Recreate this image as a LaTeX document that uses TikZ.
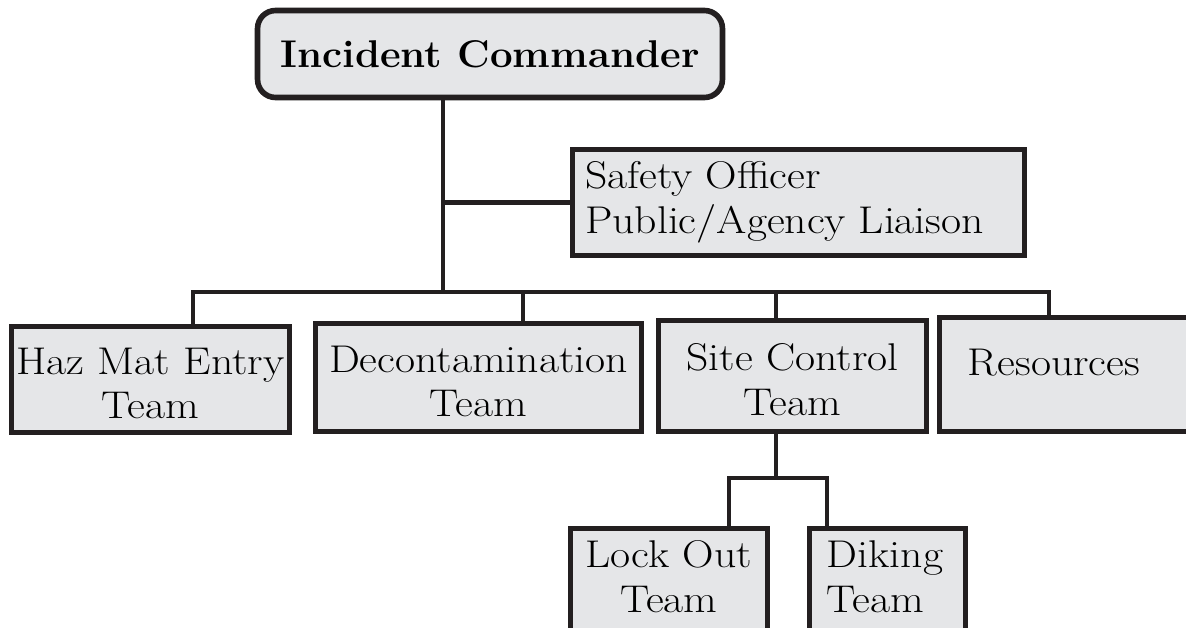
\documentclass[tikz,border=0pt]{standalone}
\usepackage{fontspec}
\usepackage{tikz}
\newfontfamily\boxfont{Latin Modern Roman}[FakeStretch=1.13]
\newfontfamily\headfont{Latin Modern Roman}[FakeStretch=1.04]
\definecolor{boxfill}{RGB}{229,230,232}
\definecolor{ink}{RGB}{35,31,32}

\begin{document}
\begin{tikzpicture}[x=0.02cm,y=-0.02cm,
  box/.style={draw=ink,fill=boxfill,line width=2.8pt,rectangle,inner sep=0pt,font=\fontsize{22}{25.5}\selectfont\boxfont},
  twoline/.style={box,align=center,text height=45pt},
  conn/.style={draw=ink,line width=2.3pt}]
\useasboundingbox (0,0) rectangle (1186,628);
\clip (0,0) rectangle (1186,628);
% boxes
\node[box,line width=3.2pt,rounded corners=0.36cm,minimum width=9.3cm,minimum height=1.74cm,font=\fontsize{22}{25.5}\selectfont\headfont\bfseries] (ic) at (490,54) {Incident Commander};
\node[box,text width=8.54cm,inner xsep=0.25cm,minimum height=2.12cm,align=left] (safety) at (798.5,202.5) {Safety Officer\\Public/Agency Liaison};
\node[twoline,minimum width=5.56cm,minimum height=2.12cm] (hazmat) at (150.5,379.5) {Haz Mat Entry\\Team};
\node[twoline,minimum width=6.52cm,minimum height=2.16cm] (decon) at (478.5,377.5) {Decontamination\\Team};
\node[twoline,minimum width=5.36cm,minimum height=2.22cm] (site) at (792.5,376) {Site Control\\Team};
\node[box,anchor=north west,text width=5.07cm,align=left,inner xsep=0.57cm,inner ysep=0.64cm,text depth=0.47cm] (res) at (937,315) {Resources};
\node[box,anchor=north west,align=center,minimum width=3.94cm,inner ysep=0.24cm,text depth=1.6cm] (lockout) at (568,526) {Lock Out\\Team};
\node[box,anchor=north west,text width=2.42cm,inner xsep=0.35cm,align=left,inner ysep=0.24cm,text depth=1.6cm] (diking) at (807,526) {Diking\\Team};
% branch points
\coordinate (trunk) at (443,292);
\coordinate (hazdrop) at (193,292);
\coordinate (decondrop) at (523,292);
\coordinate (sitedrop) at (776,292);
\coordinate (resdrop) at (1049,292);
\coordinate (fork) at (776,478);
\coordinate (lockdrop) at (729,478);
\coordinate (dikdrop) at (827,478);
% lines
\draw[conn] (ic.south -| trunk) -- (trunk);
\draw[conn] (safety.west) -- (safety.west -| trunk);
\draw[conn] (hazmat.north -| hazdrop) -- (hazdrop) -- (resdrop) -- (res.north -| resdrop);
\draw[conn] (decondrop) -- (decon.north -| decondrop);
\draw[conn] (sitedrop) -- (site.north -| sitedrop);
\draw[conn] (site.south -| fork) -- (fork);
\draw[conn] (lockout.north -| lockdrop) -- (lockdrop) -- (dikdrop) -- (diking.north -| dikdrop);
\end{tikzpicture}
\end{document}
